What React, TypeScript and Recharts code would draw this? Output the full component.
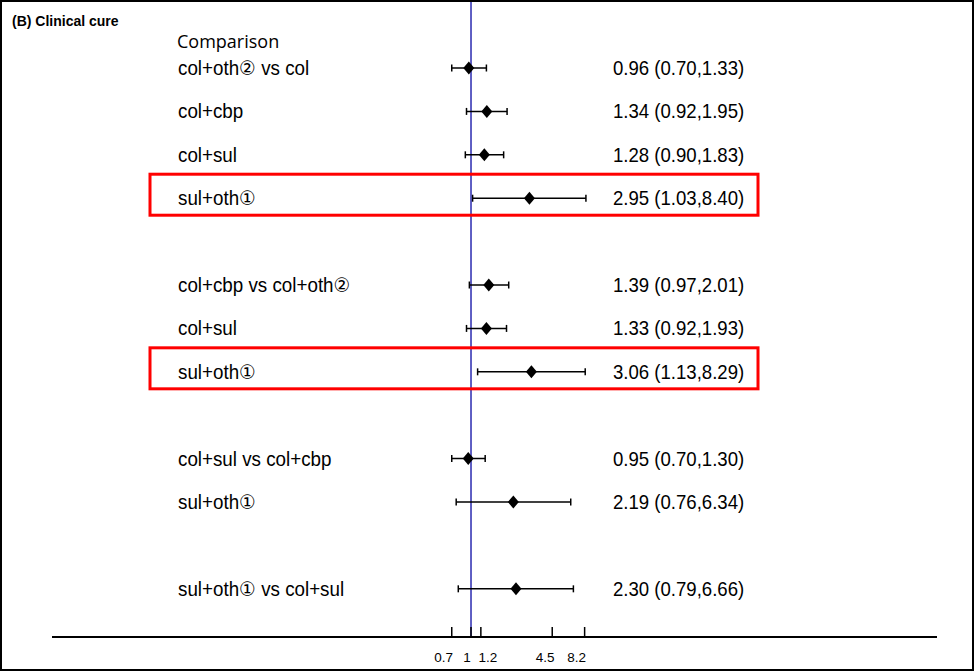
import { ScatterChart, Scatter, XAxis, YAxis, ErrorBar, ReferenceLine } from 'recharts';

const labels = [
  'col+oth② vs col',
  'col+cbp',
  'col+sul',
  'sul+oth①',
  'col+cbp vs col+oth②',
  'col+sul',
  'sul+oth①',
  'col+sul vs col+cbp',
  'sul+oth①',
  'sul+oth① vs col+sul',
];
const rowIndex = [0, 1, 2, 3, 5, 6, 7, 9, 10, 12];
const estimates = [0.96, 1.34, 1.28, 2.95, 1.39, 1.33, 3.06, 0.95, 2.19, 2.3];
const lower = [0.7, 0.92, 0.9, 1.03, 0.97, 0.92, 1.13, 0.7, 0.76, 0.79];
const upper = [1.33, 1.95, 1.83, 8.4, 2.01, 1.93, 8.29, 1.3, 6.34, 6.66];
const highlighted = [3, 6];
const xTicks = [0.7, 1, 1.2, 4.5, 8.2];
// label nudges so the crowded tick labels don't collide
const tickDx: Record<string, number> = { '0.7': -8, '1': -4, '1.2': 7, '4.5': -7, '8.2': -8 };

const fmt = (v: number) => v.toFixed(2);

const data = labels.map((label, i) => ({
  x: estimates[i],
  y: rowIndex[i],
  err: [estimates[i] - lower[i], upper[i] - estimates[i]],
  label,
  text: `${fmt(estimates[i])} (${fmt(lower[i])},${fmt(upper[i])})`,
  box: highlighted.includes(i),
}));

const FONT = 'Arial, "Liberation Sans", "DejaVu Sans", sans-serif';

function Row(props: any) {
  const { cx, cy, payload } = props;
  return (
    <g>
      {payload.box && (
        <rect x={150} y={cy - 24} width={608} height={41} fill="none" stroke="#ff0000" strokeWidth={3} />
      )}
      <text transform={`translate(178,${cy + 7}) scale(0.94,1)`} fontSize={20} fontFamily={FONT} fill="#000">
        {payload.label}
      </text>
      <text transform={`translate(613,${cy + 7}) scale(0.93,1)`} fontSize={20} fontFamily={FONT} fill="#000">
        {payload.text}
      </text>
      <path d={`M${cx},${cy - 6.5} L${cx + 5.5},${cy} L${cx},${cy + 6.5} L${cx - 5.5},${cy} Z`} fill="#000" />
    </g>
  );
}

function Tick(props: any) {
  const { x, y, payload } = props;
  const dx = tickDx[String(payload.value)] ?? 0;
  return (
    <g>
      <line x1={x} y1={y - 10} x2={x} y2={y} stroke="#000" strokeWidth={1.5} />
      <text x={x + dx} y={y + 25} textAnchor="middle" fontSize={13.5} fontFamily={FONT} fill="#000">
        {payload.value}
      </text>
    </g>
  );
}

export default function App() {
  return (
    <div style={{ position: 'absolute', left: 0, top: 0, width: 974, height: 671, background: '#fff' }}>
      <ScatterChart width={974} height={671} margin={{ top: 0, right: 37, bottom: 0, left: 52 }}>
        <XAxis
          type="number"
          dataKey="x"
          scale="log"
          domain={[Math.exp(-7.76), Math.exp(8.63)]}
          allowDataOverflow
          ticks={xTicks}
          interval={0}
          tick={<Tick />}
          tickLine={false}
          tickSize={0}
          tickMargin={0}
          axisLine={{ stroke: '#000', strokeWidth: 2 }}
          height={34}
        />
        <YAxis type="number" dataKey="y" domain={[-1.567, 13.11]} reversed hide width={0} allowDataOverflow />
        <ReferenceLine x={1} stroke="#2b2bb0" strokeWidth={1.5} />
        <Scatter data={data} shape={<Row />} isAnimationActive={false}>
          <ErrorBar dataKey="err" direction="x" width={3.5} stroke="#000" strokeWidth={1.5} />
        </Scatter>
      </ScatterChart>
      <div style={{ position: 'absolute', left: 12, top: 13, fontFamily: FONT, fontWeight: 'bold', fontSize: 14 }}>
        (B) Clinical cure
      </div>
      <div style={{ position: 'absolute', left: 177, top: 29, fontFamily: '"Open Sans", sans-serif', fontSize: 18 }}>
        Comparison
      </div>
      <div style={{ position: 'absolute', left: 0, top: 0, width: 974, height: 671, border: '2px solid #000', boxSizing: 'border-box', pointerEvents: 'none' }} />
    </div>
  );
}
